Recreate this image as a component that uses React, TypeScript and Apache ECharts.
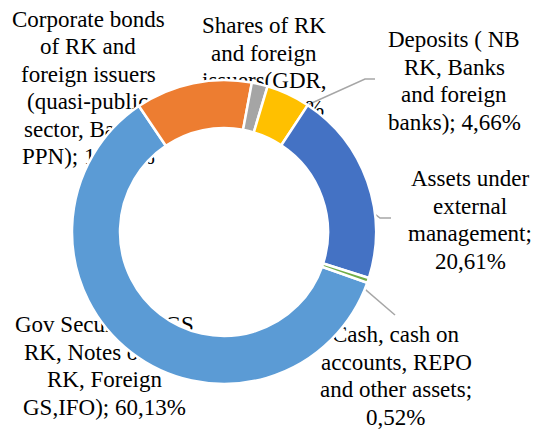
import React, { useEffect, useRef } from "react";
import * as echarts from "echarts";

const categories = [
  "Gov Securities (GS RK, Notes of NB RK, Foreign GS,IFO)",
  "Corporate bonds of RK and foreign issuers (quasi-public sector, Banks, PPN)",
  "Shares of RK and foreign issuers(GDR, ETF)",
  "Deposits ( NB RK, Banks and foreign banks)",
  "Assets under external management",
  "Cash, cash on accounts, REPO and other assets",
];
const values = [60.13, 12.39, 1.69, 4.66, 20.61, 0.52];
const wrappedLabels = [
  "Gov Securities (GS\nRK, Notes of NB\nRK, Foreign\nGS,IFO); {v}",
  "Corporate bonds\nof RK and\nforeign issuers\n(quasi-public\nsector, Banks,\nPPN); {v}",
  "Shares of RK\nand foreign\nissuers(GDR,\nETF); {v}",
  "Deposits ( NB\nRK, Banks\nand foreign\nbanks); {v}",
  "Assets under\nexternal\nmanagement;\n{v}",
  "Cash, cash on\naccounts, REPO\nand other assets;\n{v}",
];

// layout (not data)
const colors = ["#5B9BD5", "#ED7D31", "#A5A5A5", "#FFC000", "#4472C4", "#70AD47"];
const FONT_FAMILY = "Liberation Serif";
const FONT_SIZE = 23;
const LH = 27.5;
const CX = 224;
const CY = 232;
const R_IN = 104;
const R_OUT = 152;
const FIRST_ANGLE = 109.5; // degrees clockwise from 12 o'clock
const labelCenters: [number, number][] = [
  [104, 366],
  [88, 88],
  [264, 67],
  [454, 81],
  [470, 220],
  [396, 376],
];
const leaderEnds: ([number, number][] | null)[] = [
  null,
  [[190, 88], [180, 88]],
  null,
  [[365, 79], [375, 79]],
  [[380, 218], [391, 218]],
  [[395, 315], [395, 315]],
];
const leaderR = [0, 118, 0, 125, 127, 129];

export default function App() {
  const ref = useRef<HTMLDivElement>(null);
  useEffect(() => {
    document.body.style.margin = "0";
    if (!ref.current) return;
    const chart = echarts.init(ref.current, null, { renderer: "svg" });
    const fmt = (v: number) => v.toFixed(2).replace(".", ",") + "%";
    const total = values.reduce((a, b) => a + b, 0);

    const measure = (text: string) => {
      const t = new (echarts.graphic as any).Text({
        style: { text, fontFamily: FONT_FAMILY, fontSize: FONT_SIZE },
      });
      const r = t.getBoundingRect();
      return { w: r.width, h: r.height };
    };

    const graphics: any[] = [];
    let cum = 0;
    values.forEach((v, i) => {
      const mid = FIRST_ANGLE + ((cum + v / 2) / total) * 360;
      cum += v;
      const ends = leaderEnds[i];
      if (ends) {
        const rad = (mid * Math.PI) / 180;
        const s = [CX + leaderR[i] * Math.sin(rad), CY - leaderR[i] * Math.cos(rad)];
        graphics.push({
          type: "polyline",
          shape: { points: [s, ends[0], ends[1]] },
          style: { stroke: "#A6A6A6", lineWidth: 1.5, fill: null },
        });
      }
    });
    wrappedLabels.forEach((t, i) => {
      const lines = t.replace("{v}", fmt(values[i])).split("\n");
      const n = lines.length;
      lines.forEach((line, j) => {
        const m = measure(line);
        const cy = labelCenters[i][1] + (j - (n - 1) / 2) * LH;
        graphics.push({
          type: "text",
          left: Math.round(labelCenters[i][0] - m.w / 2),
          top: Math.round(cy - m.h / 2),
          style: {
            text: line,
            fontFamily: FONT_FAMILY,
            fontSize: FONT_SIZE,
            fill: "#000",
          },
        });
      });
    });

    chart.setOption({
      animation: false,
      graphic: graphics,
      series: [
        {
          type: "pie",
          center: [CX, CY],
          radius: [R_IN, R_OUT],
          startAngle: 90 - FIRST_ANGLE,
          clockwise: true,
          z: 1,
          itemStyle: { borderColor: "#ffffff", borderWidth: 2.5 },
          label: { show: false },
          labelLine: { show: false },
          data: categories.map((name, i) => ({
            name,
            value: values[i],
            itemStyle: { color: colors[i] },
          })),
        },
      ],
    });
    return () => chart.dispose();
  }, []);
  return <div ref={ref} style={{ width: 536, height: 429 }} />;
}
